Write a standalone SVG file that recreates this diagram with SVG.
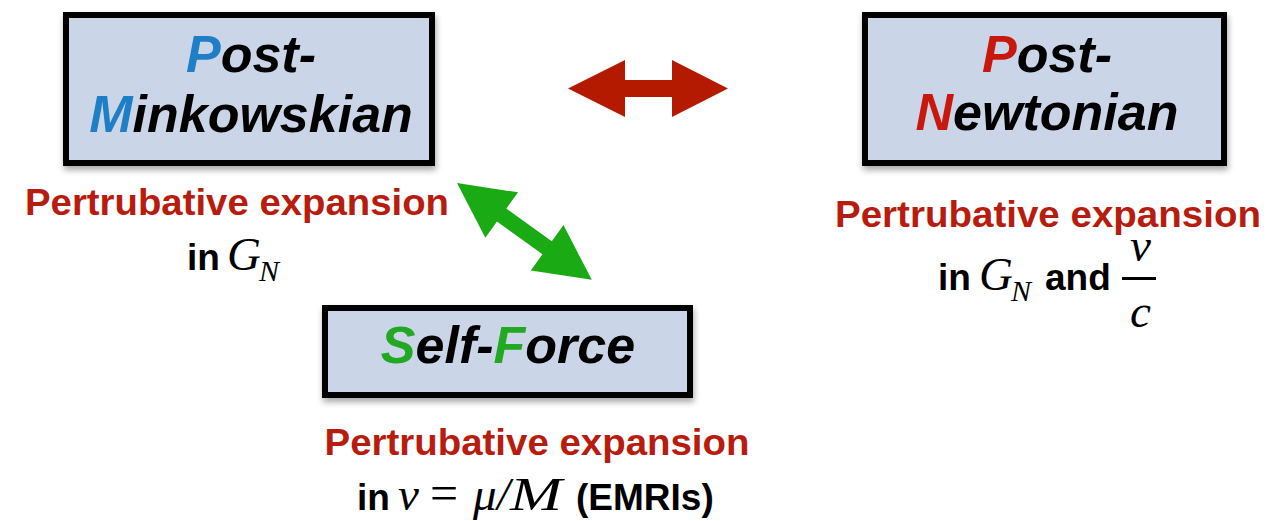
<svg xmlns="http://www.w3.org/2000/svg" width="1269" height="521" viewBox="0 0 1269 521">
<defs>
<filter id="sh" x="-10%" y="-10%" width="125%" height="135%">
<feDropShadow dx="1" dy="4" stdDeviation="3" flood-color="#000" flood-opacity="0.35"/>
</filter>
<style>
.box{fill:#cad5e7;stroke:#000;stroke-width:6;filter:url(#sh)}
.title{font-family:"Liberation Sans",Arial,sans-serif;font-weight:bold;font-style:italic;font-size:52px;fill:#000;text-anchor:middle}
.lab{font-family:"Liberation Sans",Arial,sans-serif;font-weight:bold;font-size:37px;fill:#b71c0e;text-anchor:middle}
.txt{font-family:"Liberation Sans",Arial,sans-serif;font-weight:bold;font-size:37px;fill:#000}
.m{font-family:"Liberation Serif","Times New Roman",serif;font-style:italic;font-size:47px;fill:#000}
.ms{font-family:"Liberation Serif","Times New Roman",serif;font-style:italic;font-size:30px;fill:#000}
.mr{font-family:"Liberation Serif","Times New Roman",serif;font-size:50px;fill:#000}
.blue{fill:#1f7fc6}
.red{fill:#c8170d}
.green{fill:#22a822}
</style>
</defs>
<g id="connectors">
<polygon fill="#b41a00" points="568,88.5 625,60 625,80 672,80 672,60 728,88.5 672,117 672,97 625,97 625,117"/>
<polygon fill="#1aab14" transform="translate(457,183) rotate(35.7)" points="0,0 55,-28 55,-8 111,-8 111,-28 166,0 111,28 111,8 55,8 55,28"/>
</g>
<g id="post-minkowskian">
<rect class="box" x="66" y="15" width="366" height="148"/>
<text class="title" x="251" y="72"><tspan class="blue">P</tspan>ost-</text>
<text class="title" x="251" y="132"><tspan class="blue">M</tspan>inkowskian</text>
</g>
<g id="post-newtonian">
<rect class="box" x="865" y="15" width="359" height="148"/>
<text class="title" x="1047" y="72"><tspan class="red">P</tspan>ost-</text>
<text class="title" x="1047" y="130"><tspan class="red">N</tspan>ewtonian</text>
</g>
<g id="self-force">
<rect class="box" x="325" y="308" width="365" height="87"/>
<text class="title" x="508" y="363"><tspan class="green">S</tspan>elf-<tspan class="green">F</tspan>orce</text>
</g>
<g id="label-pm">
<text class="lab" x="237" y="215" textLength="424" lengthAdjust="spacingAndGlyphs">Pertrubative expansion</text>
<text class="txt" x="187" y="270">in</text>
<text class="m" x="227" y="270">G</text>
<text class="ms" x="259" y="281">N</text>
</g>
<g id="label-pn">
<text class="lab" x="1048" y="227" textLength="426" lengthAdjust="spacingAndGlyphs">Pertrubative expansion</text>
<text class="txt" x="938" y="290">in</text>
<text class="m" x="979" y="290">G</text>
<text class="ms" x="1011" y="301">N</text>
<text class="txt" x="1045" y="290">and</text>
<text class="m" x="1130" y="261">v</text>
<rect x="1122" y="277" width="34" height="3" fill="#000"/>
<text class="m" x="1130" y="327">c</text>
</g>
<g id="label-sf">
<text class="lab" x="537" y="455" textLength="425" lengthAdjust="spacingAndGlyphs">Pertrubative expansion</text>
<text class="txt" x="357" y="510">in</text>
<text class="m" x="398" y="510">ν</text>
<text class="mr" x="430" y="510">=</text>
<text class="m" x="473" y="510">μ</text>
<text class="m" x="497" y="510">/</text>
<text class="m" x="510" y="510" textLength="52" lengthAdjust="spacingAndGlyphs">M</text>
<text class="txt" x="576" y="510">(EMRIs)</text>
</g>
</svg>
